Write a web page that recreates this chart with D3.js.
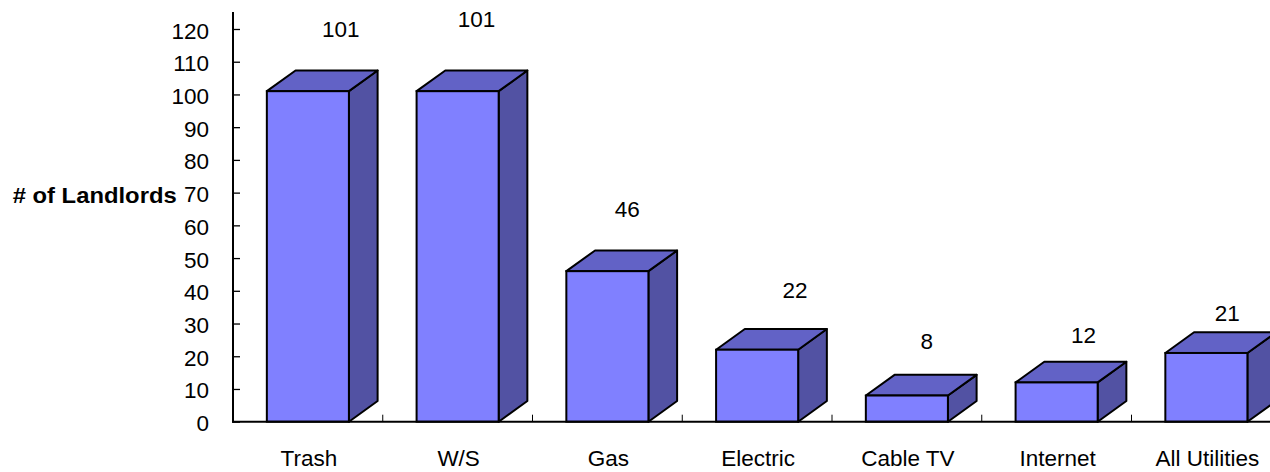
<!DOCTYPE html>
<html>
<head>
<meta charset="utf-8">
<script src="https://cdn.jsdelivr.net/npm/d3@7"></script>
<style>
  html, body { margin: 0; padding: 0; background: #ffffff; }
  svg { display: block; }
  text { font-family: "Liberation Sans", Arial, sans-serif; fill: #000; }
</style>
</head>
<body>
<svg id="chart" width="1270" height="472"></svg>
<script>
// Utilities paid by landlords
const categories = ["Trash", "W/S", "Gas", "Electric", "Cable TV", "Internet", "All Utilities"];
const landlords = [101, 101, 46, 22, 8, 12, 21];
const yTicks = [0, 10, 20, 30, 40, 50, 60, 70, 80, 90, 100, 110, 120];

// hand-placed value label nudges, relative to each bar's front top centre
const labelShiftX = [33, 19, 20, 38, 20, 27, 21];
const labelShiftY = [-54, -64.5, -54.5, -51.5, -47, -39, -31.5];

const svg = d3.select("#chart");
const fontSize = 22.5;

const axisX = 233, baseY = 421.7;
const x = d3.scaleBand().domain(categories).range([axisX, axisX + 149.75 * categories.length]).padding(0);
const y = d3.scaleLinear().domain([0, 120]).range([baseY, 29]);

const frontW = x.bandwidth() * 0.548;
const depthX = 28.7, depthY = -20.7;

const colFront = "#8080ff", colTop = "#6262c6", colSide = "#5252a3";

// bars: side, top, front faces
const bars = svg.append("g").selectAll("g").data(categories).join("g");
bars.each(function (c, i) {
  const g = d3.select(this);
  const cx = x(c) + x.bandwidth() / 2;
  const x0 = cx - frontW / 2, x1 = cx + frontW / 2;
  const yt = y(landlords[i]), yb = y(0);
  g.append("polygon")
    .attr("points", [[x1, yb], [x1 + depthX, yb + depthY], [x1 + depthX, yt + depthY], [x1, yt]].join(" "))
    .attr("fill", colSide).attr("stroke", "#000").attr("stroke-width", 2).attr("stroke-linejoin", "round");
  g.append("polygon")
    .attr("points", [[x0, yt], [x0 + depthX, yt + depthY], [x1 + depthX, yt + depthY], [x1, yt]].join(" "))
    .attr("fill", colTop).attr("stroke", "#000").attr("stroke-width", 2).attr("stroke-linejoin", "round");
  g.append("rect")
    .attr("x", x0).attr("y", yt).attr("width", frontW).attr("height", yb - yt)
    .attr("fill", colFront).attr("stroke", "#000").attr("stroke-width", 2);
});

// y axis
const yAxis = d3.axisLeft(y).tickValues(yTicks).tickSizeInner(-7).tickSizeOuter(0).tickPadding(24);
const gy = svg.append("g").attr("transform", `translate(${axisX},0)`).call(yAxis);
gy.select(".domain").remove();
gy.selectAll(".tick line").attr("stroke", "#000").attr("stroke-width", 1.3);
gy.selectAll(".tick text").attr("font-size", fontSize).attr("dy", "0.4em")
  .style("font-family", "'Liberation Sans', Arial, sans-serif").attr("fill", "#000");
svg.append("line").attr("x1", axisX).attr("x2", axisX).attr("y1", 12).attr("y2", baseY + 1)
  .attr("stroke", "#000").attr("stroke-width", 2);

// x axis
svg.append("line").attr("x1", axisX - 1).attr("x2", 1270).attr("y1", baseY).attr("y2", baseY)
  .attr("stroke", "#000").attr("stroke-width", 2);
svg.append("g").selectAll("line").data(categories)
  .join("line")
  .attr("x1", d => x(d) + x.bandwidth())
  .attr("x2", d => x(d) + x.bandwidth())
  .attr("y1", baseY).attr("y2", baseY - 7)
  .attr("stroke", "#000").attr("stroke-width", 1);

svg.append("g").selectAll("text").data(categories).join("text")
  .attr("x", d => x(d) + x.bandwidth() / 2 + 1)
  .attr("y", 465.5)
  .attr("text-anchor", "middle")
  .attr("font-size", fontSize)
  .text(d => d);

// value labels
svg.append("g").selectAll("text").data(landlords).join("text")
  .attr("x", (d, i) => x(categories[i]) + x.bandwidth() / 2 + labelShiftX[i])
  .attr("y", (d, i) => y(d) + labelShiftY[i])
  .attr("text-anchor", "middle")
  .attr("font-size", fontSize)
  .text(d => d);

// y axis title
svg.append("text")
  .attr("x", 176.7).attr("y", 203.3)
  .attr("text-anchor", "end")
  .attr("font-size", fontSize).attr("font-weight", "bold")
  .attr("textLength", 164).attr("lengthAdjust", "spacingAndGlyphs")
  .text("# of Landlords");
</script>
</body>
</html>
